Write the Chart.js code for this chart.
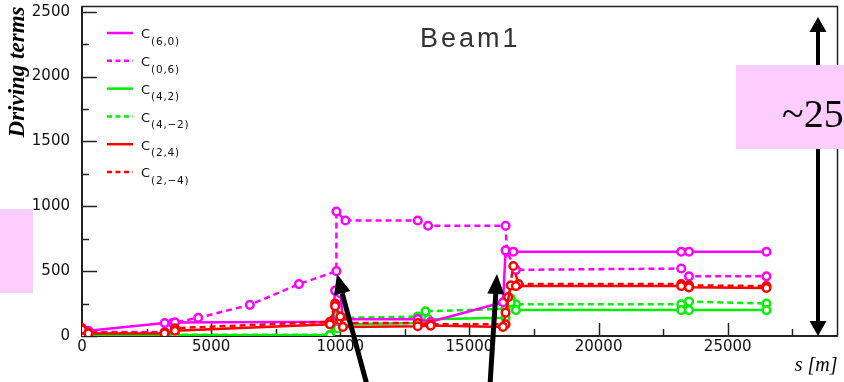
<!DOCTYPE html>
<html><head><meta charset="utf-8">
<script src="https://cdn.jsdelivr.net/npm/chart.js@4/dist/chart.umd.min.js"></script>
<style>html,body{margin:0;padding:0;background:#fff;overflow:hidden}canvas{display:block}</style>
</head><body>
<canvas id="c" width="844" height="382"></canvas>
<script>
// ---- data (s [m], driving term) ----
const sC60 = [0, 250, 3200, 3600, 9700, 9800, 10000, 10100, 13000, 13500, 16300, 16400, 16700, 23200, 23500, 26500];
const vC60 = [60, 40, 100, 105, 110, 350, 330, 130, 130, 110, 260, 660, 650, 650, 650, 650];

const sC06 = [0, 250, 3200, 3500, 4500, 6500, 8400, 9850, 9850, 10200, 13000, 13400, 16400, 16450, 16800, 23200, 23500, 26500];
const vC06 = [45, 30, 30, 100, 140, 240, 400, 500, 960, 890, 890, 850, 850, 650, 510, 520, 460, 460];

const sC42 = [0, 3200, 3600, 9600, 9900, 10100, 13000, 13400, 16400, 16600, 16800, 23200, 23500, 26500];
const vC42 = [5, 5, 5, 5, 60, 90, 100, 130, 140, 260, 200, 200, 200, 200];

const sC4m2 = [0, 3200, 3600, 9600, 9900, 10200, 13000, 13300, 16400, 16600, 16800, 23200, 23500, 26500];
const vC4m2 = [10, 10, 10, 10, 160, 140, 150, 190, 210, 290, 245, 245, 265, 250];

const sC24 = [0, 250, 3200, 3600, 9600, 9800, 10000, 10100, 13000, 13500, 16300, 16400, 16600, 16800, 23200, 23500, 26500];
const vC24 = [50, 20, 20, 40, 90, 230, 150, 70, 75, 80, 70, 180, 390, 385, 385, 375, 370];

const sC2m4 = [0, 250, 3200, 3600, 9600, 9800, 10000, 10200, 13000, 13500, 16400, 16500, 16700, 16900, 23200, 23500, 26500];
const vC2m4 = [60, 25, 25, 60, 110, 250, 120, 100, 100, 90, 90, 300, 540, 400, 400, 390, 385];

const seriesMain = ['C', 'C', 'C', 'C', 'C', 'C'];
const seriesSub = ['(6,0)', '(0,6)', '(4,2)', '(4,\u22122)', '(2,4)', '(2,\u22124)'];
const seriesColor = ['#ff00ff', '#ff00ff', '#00ee00', '#00ee00', '#ff0000', '#ff0000'];
const seriesDashed = [false, true, false, true, false, true];

// tick positions (minor + major) and labelled major ticks
const yTickAll = [0, 250, 500, 750, 1000, 1250, 1500, 1750, 2000, 2250, 2500];
const yTickLabels = [0, 500, 1000, 1500, 2000, 2500];
const xTickAll = [0, 2500, 5000, 7500, 10000, 12500, 15000, 17500, 20000, 22500, 25000, 27500];
const xTickLabels = [0, 5000, 10000, 15000, 20000, 25000];
const plotTitle = 'Beam1';
const yTitle = 'Driving terms';
const xTitle = 's [m]';
const boxText = '~25';

const sArr = [sC60, sC06, sC42, sC4m2, sC24, sC2m4];
const vArr = [vC60, vC06, vC42, vC4m2, vC24, vC2m4];

function makeDs(i) {
  return {
    label: seriesMain[i] + seriesSub[i],
    data: sArr[i].map((s, k) => ({x: s, y: vArr[i][k]})),
    showLine: true,
    borderColor: seriesColor[i],
    backgroundColor: '#ffffff',
    borderWidth: 2.5,
    borderDash: seriesDashed[i] ? [6, 4] : [],
    pointRadius: 3.8,
    pointBorderWidth: 2.5,
    pointBorderColor: seriesColor[i],
    pointBackgroundColor: '#ffffff',
    tension: 0
  };
}
// draw order: greens bottom, then magenta, red on top
const drawOrder = [4, 5, 0, 1, 2, 3];
const datasets = drawOrder.map(makeDs);

function arrow(ctx, x1, y1, x2, y2, w, hl, hw) {
  const ang = Math.atan2(y2 - y1, x2 - x1);
  const bx = x2 - hl * Math.cos(ang), by = y2 - hl * Math.sin(ang);
  ctx.lineWidth = w;
  ctx.beginPath(); ctx.moveTo(x1, y1); ctx.lineTo(bx, by); ctx.stroke();
  ctx.beginPath();
  ctx.moveTo(x2, y2);
  ctx.lineTo(bx + hw * Math.sin(ang), by - hw * Math.cos(ang));
  ctx.lineTo(bx - hw * Math.sin(ang), by + hw * Math.cos(ang));
  ctx.closePath(); ctx.fill();
}

const framePlugin = {
  id: 'frame',
  beforeDatasetsDraw(chart) {
    const ctx = chart.ctx, {left, right, top, bottom} = chart.chartArea;
    const xs = chart.scales.x, ys = chart.scales.y;
    ctx.save();
    ctx.strokeStyle = '#222';
    ctx.lineWidth = 1.5;
    ctx.strokeRect(left, top, right - left, bottom - top);
    ctx.lineWidth = 2;
    ctx.beginPath(); ctx.moveTo(left, top); ctx.lineTo(left, bottom); ctx.lineTo(right, bottom); ctx.stroke();
    ctx.lineWidth = 1.5;
    ys.ticks.forEach(t => {
      const y = Math.round(ys.getPixelForValue(t.value)) + 0.5;
      const len = yTickLabels.includes(t.value) ? 15 : 7;
      ctx.beginPath(); ctx.moveTo(left, y); ctx.lineTo(left + len, y); ctx.stroke();
    });
    xs.ticks.forEach(t => {
      const x = Math.round(xs.getPixelForValue(t.value)) + 0.5;
      const len = xTickLabels.includes(t.value) ? 13 : 7;
      ctx.beginPath(); ctx.moveTo(x, bottom); ctx.lineTo(x, bottom - len); ctx.stroke();
    });
    ctx.restore();
  },
  afterDraw(chart) {
    const ctx = chart.ctx;
    ctx.save();
    // title inside plot
    ctx.fillStyle = '#333';
    ctx.font = '27px "Liberation Sans"';
    ctx.letterSpacing = '3px';
    ctx.textBaseline = 'alphabetic';
    ctx.textAlign = 'left';
    ctx.fillText(plotTitle, 420, 47);
    ctx.letterSpacing = '0px';
    // legend
    for (let i = 0; i < 6; i++) {
      const y = 33 + i * 27.8;
      ctx.strokeStyle = seriesColor[i];
      ctx.lineWidth = 2.5;
      ctx.setLineDash(seriesDashed[i] ? [5, 3.5] : []);
      ctx.beginPath(); ctx.moveTo(107, y); ctx.lineTo(133, y); ctx.stroke();
      ctx.setLineDash([]);
      ctx.fillStyle = '#111';
      ctx.font = '13px "DejaVu Sans"';
      ctx.textBaseline = 'middle';
      ctx.fillText(seriesMain[i], 141, y + 2);
      ctx.font = '10.5px "DejaVu Sans"';
      ctx.letterSpacing = '0.8px';
      ctx.fillText(seriesSub[i], 151, y + 9);
      ctx.letterSpacing = '0px';
    }
    // annotations
    ctx.fillStyle = '#000'; ctx.strokeStyle = '#000';
    arrow(ctx, 818, 322, 818, 17, 4, 15, 8.5);
    arrow(ctx, 818, 40, 818, 336, 4, 15, 8.5);
    ctx.fillStyle = '#ffccff';
    ctx.fillRect(0, 209, 33, 84);
    ctx.fillRect(736, 65, 108, 84);
    ctx.fillStyle = '#000';
    ctx.font = '40px "Liberation Serif"';
    ctx.textBaseline = 'alphabetic';
    ctx.fillText(boxText, 782, 127);
    arrow(ctx, 367, 385, 337, 274, 5, 20, 8.5);
    arrow(ctx, 490, 385, 497, 274, 5, 20, 8.5);
    ctx.restore();
  }
};

new Chart(document.getElementById('c'), {
  type: 'scatter',
  data: {datasets},
  options: {
    responsive: false,
    animation: false,
    devicePixelRatio: 1,
    layout: {padding: {top: 6, right: 6, left: 0, bottom: 0}},
    plugins: {legend: {display: false}, tooltip: {enabled: false}, title: {display: false}},
    scales: {
      x: {
        type: 'linear', min: 0, max: 29250,
        grid: {display: false, drawTicks: false}, border: {display: false},
        afterBuildTicks: s => { s.ticks = xTickAll.map(v => ({value: v})); },
        ticks: {autoSkip: false, maxRotation: 0, minRotation: 0, padding: 2,
          color: '#111', font: {family: '"DejaVu Sans"', size: 15},
          callback: v => xTickLabels.includes(v) ? String(v) : ''},
        title: {display: true, text: xTitle, align: 'end', color: '#000',
          font: {family: '"Liberation Serif"', size: 20, style: 'italic'}, padding: {top: 0, bottom: 4}},
        afterFit: s => { s.height = 46; s.paddingLeft = 0; s.paddingRight = 0; }
      },
      y: {
        type: 'linear', min: 0, max: 2540,
        grid: {display: false, drawTicks: false}, border: {display: false},
        afterBuildTicks: s => { s.ticks = yTickAll.map(v => ({value: v})); },
        ticks: {autoSkip: false, padding: 12,
          color: '#111', font: {family: '"DejaVu Sans"', size: 15},
          callback: v => yTickLabels.includes(v) ? String(v) : ''},
        title: {display: true, text: yTitle, align: 'end', color: '#000',
          font: {family: '"Liberation Serif"', size: 23, style: 'italic', weight: 'bold'}, padding: {top: 4, bottom: 0}},
        afterFit: s => { s.width = 82; s.paddingTop = 0; s.paddingBottom = 0; }
      }
    }
  },
  plugins: [framePlugin]
});
</script>
</body></html>
